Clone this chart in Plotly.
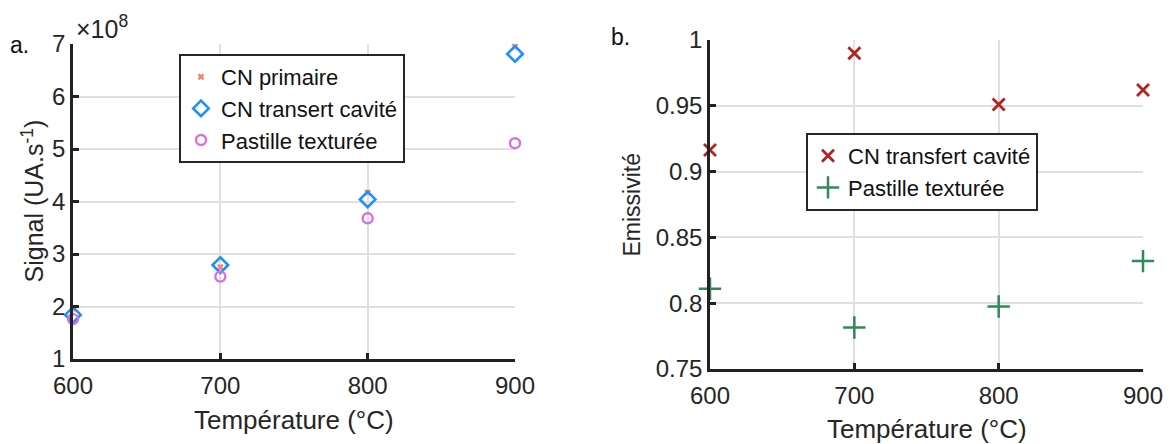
import plotly.graph_objects as go

temps = [600, 700, 800, 900]
cn_primaire = [1.96, 2.75, 4.17, 6.95]
cn_transfert = [1.84, 2.79, 4.04, 6.81]
pastille = [1.76, 2.57, 3.68, 5.11]

emis_cn = [0.9165, 0.990, 0.951, 0.962]
emis_pastille = [0.811, 0.7815, 0.7975, 0.832]

left_yticks = [1, 2, 3, 4, 5, 6, 7]
right_yticks = [0.75, 0.8, 0.85, 0.9, 0.95, 1.0]
right_yticktext = ["0.75", "0.8", "0.85", "0.9", "0.95", "1"]
xticks = [600, 700, 800, 900]

FONT = "Liberation Sans, Arial, sans-serif"
TXT = "#262626"
W, H = 1170, 444

def px(x):
    return x / W

def py(y):
    return 1 - y / H

fig = go.Figure()

fig.add_trace(go.Scatter(x=temps, y=cn_primaire, mode="markers", name="CN primaire",
                         marker=dict(symbol="x", size=6, color="#f8806c", line=dict(width=0)),
                         xaxis="x", yaxis="y", legend="legend", cliponaxis=False))
fig.add_trace(go.Scatter(x=temps, y=cn_transfert, mode="markers", name="CN transert cavité",
                         marker=dict(symbol="diamond-open", size=12, color="#1e8fff", line=dict(width=2.6, color="#1e8fff")),
                         xaxis="x", yaxis="y", legend="legend", cliponaxis=False))
fig.add_trace(go.Scatter(x=temps, y=pastille, mode="markers", name="Pastille texturée",
                         marker=dict(symbol="circle-open", size=10, color="#d872d8", line=dict(width=2.4, color="#d872d8")),
                         xaxis="x", yaxis="y", legend="legend", cliponaxis=False))

fig.add_trace(go.Scatter(x=temps, y=emis_cn, mode="markers", name="CN transfert cavité",
                         marker=dict(symbol="x-thin-open", size=12, color="#b22222", line=dict(width=2.8, color="#b22222")),
                         xaxis="x2", yaxis="y2", legend="legend2", cliponaxis=False))
fig.add_trace(go.Scatter(x=temps, y=emis_pastille, mode="markers", name="Pastille texturée",
                         marker=dict(symbol="cross-thin-open", size=16, color="#2e8b57", line=dict(width=2.5, color="#2e8b57")),
                         xaxis="x2", yaxis="y2", legend="legend2", cliponaxis=False))

axis_common = dict(showline=True, linecolor="#222222", linewidth=2.5, mirror=False,
                   ticks="inside", ticklen=6, tickwidth=2.5, tickcolor="#222222",
                   showgrid=True, gridcolor="#e0e0e0", gridwidth=1.5, zeroline=False,
                   automargin=False,
                   tickfont=dict(family=FONT, size=24, color=TXT))

L = dict(x0=73, x1=515, ytop=44, ybot=359)
R = dict(x0=710, x1=1143, ytop=40, ybot=369)

def ann(text, x, y, size, angle=0, xanchor="center", yanchor="middle", color=TXT):
    return dict(text=text, x=px(x), y=py(y), xref="paper", yref="paper",
                xanchor=xanchor, yanchor=yanchor, textangle=angle, showarrow=False,
                font=dict(family=FONT, size=size, color=color))

fig.update_layout(
    width=W, height=H,
    margin=dict(l=0, r=0, t=0, b=0),
    paper_bgcolor="white", plot_bgcolor="white",
    font=dict(family=FONT, color=TXT),
    xaxis=dict(domain=[px(L["x0"]), px(L["x1"])], range=[600, 900], tickvals=xticks, anchor="y",
               ticklabelstandoff=3, **axis_common),
    yaxis=dict(domain=[py(L["ybot"]), py(L["ytop"])], range=[1, 7], tickvals=left_yticks, anchor="x",
               ticklabelstandoff=0, **axis_common),
    xaxis2=dict(domain=[px(R["x0"]), px(R["x1"])], range=[600, 900], tickvals=xticks, anchor="y2",
                ticklabelstandoff=3, **axis_common),
    yaxis2=dict(domain=[py(R["ybot"]), py(R["ytop"])], range=[0.75, 1.0], tickvals=right_yticks,
                ticktext=right_yticktext, anchor="x2", ticklabelstandoff=0, **axis_common),
    legend=dict(x=px(179), y=py(54), xanchor="left", yanchor="top", bgcolor="white",
                bordercolor="#262626", borderwidth=2, font=dict(family=FONT, size=22, color="#111111"),
                itemsizing="trace", tracegroupgap=0),
    legend2=dict(x=px(806), y=py(133), xanchor="left", yanchor="top", bgcolor="white",
                 bordercolor="#262626", borderwidth=2, font=dict(family=FONT, size=22, color="#111111"),
                 itemsizing="trace", tracegroupgap=0),
    showlegend=True,
    annotations=[
        ann("Température (°C)", (L["x0"] + L["x1"]) / 2, 420, 26),
        ann("Température (°C)", (R["x0"] + R["x1"]) / 2, 429, 26),
        ann("Signal (UA.s<sup>-1</sup>)", 32, (L["ytop"] + L["ybot"]) / 2, 25, angle=-90),
        ann("Emissivité", 631, (R["ytop"] + R["ybot"]) / 2, 23, angle=-90),
        ann("a.", 8, 45, 23, xanchor="left", color="#111111"),
        ann("b.", 609, 37, 23, xanchor="left", color="#111111"),
        ann("×10<sup>8</sup>", 74, 27, 25, xanchor="left"),
    ],
)

fig.write_html("out.html", config={"displayModeBar": False},
               post_script="document.body.style.margin='0px';")
